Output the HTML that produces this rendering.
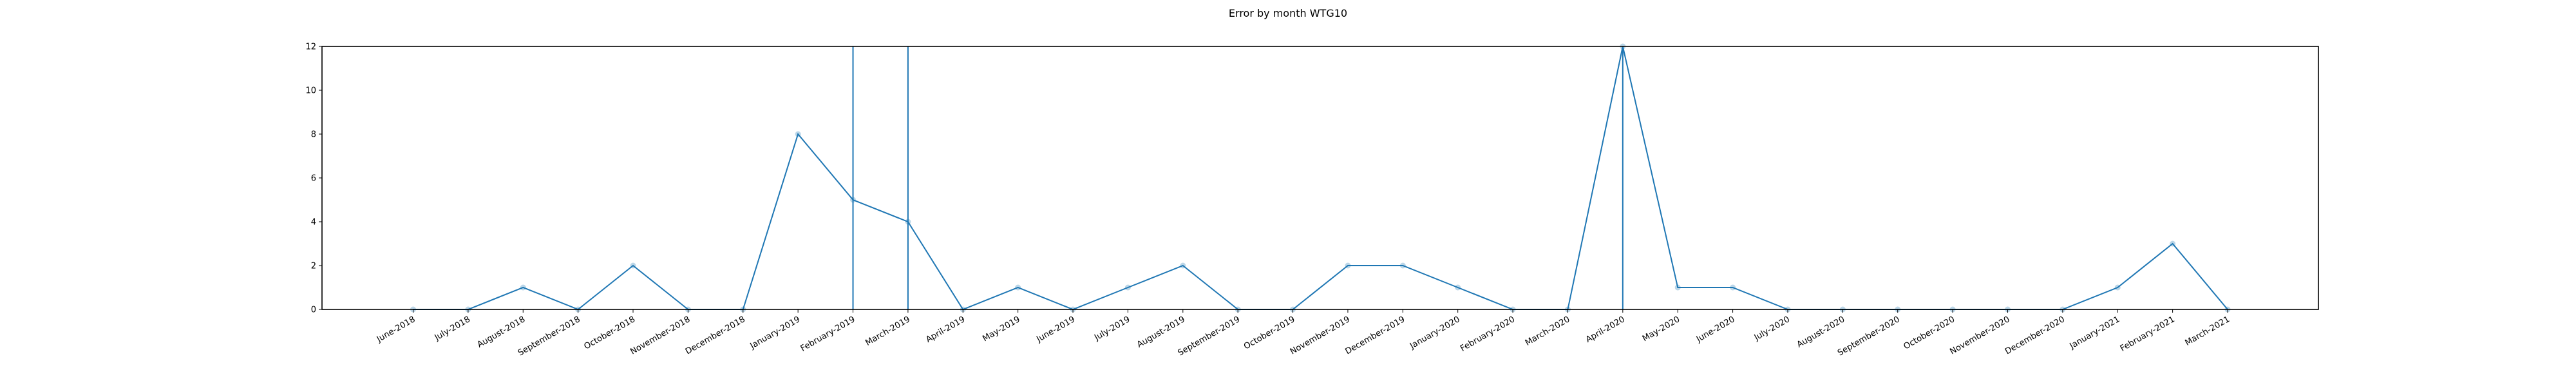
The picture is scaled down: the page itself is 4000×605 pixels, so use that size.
<!DOCTYPE html>
<html><head><meta charset="utf-8"><style>
html,body{margin:0;padding:0;background:#fff;}
svg text{font-family:"DejaVu Sans","Liberation Sans",sans-serif;}
</style></head><body>
<svg id="chart" width="4000" height="600" xmlns="http://www.w3.org/2000/svg">
<rect width="4000" height="600" fill="#fff"/>
<text x="2000" y="26" font-size="16" text-anchor="middle" fill="#000">Error by month WTG10</text>
<g id="marks"></g>
<g id="axes"></g>
</svg>
<script>
const categories = ["June-2018","July-2018","August-2018","September-2018","October-2018","November-2018","December-2018","January-2019","February-2019","March-2019","April-2019","May-2019","June-2019","July-2019","August-2019","September-2019","October-2019","November-2019","December-2019","January-2020","February-2020","March-2020","April-2020","May-2020","June-2020","July-2020","August-2020","September-2020","October-2020","November-2020","December-2020","January-2021","February-2021","March-2021"];
const errors = [0,0,1,0,2,0,0,8,5,4,0,1,0,1,2,0,0,2,2,1,0,0,12,1,1,0,0,0,0,0,0,1,3,0];
const vlineMonths = ["February-2019","March-2019","April-2020"];
const yTicks = [0,2,4,6,8,10,12];

const L=500,R=3600,T=72,B=480;
const x0=641.5, x1=3459;
function xs(i){return x0+(x1-x0)*i/(categories.length-1);}
function ys(v){return B-(B-T)*v/12;}
const NS="http://www.w3.org/2000/svg";
const marks=document.getElementById('marks'), axes=document.getElementById('axes');
function mk(tag,attrs,parent){const e=document.createElementNS(NS,tag);for(const k in attrs)e.setAttribute(k,attrs[k]);parent.appendChild(e);return e;}

vlineMonths.forEach(m=>{
  const i=categories.indexOf(m);
  const l=mk('line',{x1:xs(i),x2:xs(i),y1:T,y2:B,stroke:'#1f77b4','stroke-width':2},marks);
  
  
});
const pts=errors.map((v,i)=>xs(i)+','+ys(v)).join(' ');
const pl=mk('polyline',{points:pts,fill:'none',stroke:'#1f77b4','stroke-width':2},marks);


errors.forEach((v,i)=>{
  const c=mk('circle',{cx:xs(i),cy:ys(v),r:4.5,fill:'#1f77b4','fill-opacity':0.3},marks);
  
  
});
const fr=mk('rect',{x:L,y:T,width:R-L,height:B-T,fill:'none',stroke:'#000','stroke-width':1.6},axes);


yTicks.forEach(v=>{
  mk('line',{x1:L-5,x2:L,y1:ys(v),y2:ys(v),stroke:'#000','stroke-width':1},axes);
  const t=mk('text',{x:L-9,y:ys(v)+4.5,'font-size':13,'text-anchor':'end',fill:'#000'},axes);
  t.textContent=v;
  
  
});
categories.forEach((c,i)=>{
  const x=xs(i);
  mk('line',{x1:x,x2:x,y1:B,y2:B+5,stroke:'#000','stroke-width':1},axes);
  const t=mk('text',{x:0,y:10,'font-size':13,'text-anchor':'end',fill:'#000',transform:'translate('+(x-1)+' '+(B+9)+') rotate(-30)'},axes);
  t.textContent=c;
  
  
});
</script>
</body></html>
